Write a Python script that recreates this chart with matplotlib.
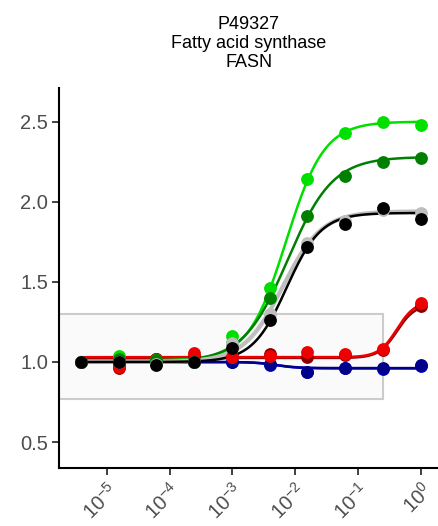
import numpy as np
import matplotlib
matplotlib.use("Agg")
from matplotlib import pyplot as plt
from matplotlib.patches import Rectangle
from matplotlib.ticker import NullLocator

plt.rcParams["font.family"] = ["Liberation Sans", "DejaVu Sans"]

# concentrations (4-fold dilution series)
conc = [3.81e-6, 1.53e-5, 6.10e-5, 2.44e-4, 9.77e-4, 3.91e-3, 1.56e-2, 6.25e-2, 0.25, 1.0]
xticks = [1e-5, 1e-4, 1e-3, 1e-2, 1e-1, 1e0]

# measured points per condition
blue = [1.00, 1.00, 1.01, 1.00, 1.00, 0.98, 0.94, 0.965, 0.955, 0.975]
darkblue = [1.00, 0.99, 1.02, 1.00, 1.00, 0.985, 0.94, 0.965, 0.96, 0.98]
red = [1.00, 0.97, 1.02, 1.055, 1.03, 1.04, 1.065, 1.05, 1.08, 1.37]
darkred = [1.00, 0.96, 1.02, 1.04, 1.03, 1.05, 1.03, 1.045, 1.075, 1.35]
lightgreen = [1.00, 1.035, 1.01, 1.00, 1.16, 1.46, 2.14, 2.43, 2.50, 2.48]
darkgreen = [1.00, 1.02, 1.01, 1.00, 1.12, 1.40, 1.91, 2.16, 2.25, 2.27]
gray = [1.00, 1.00, 0.99, 1.00, 1.12, 1.30, 1.74, 1.88, 1.95, 1.93]
black = [1.00, 1.00, 0.98, 1.00, 1.09, 1.26, 1.72, 1.86, 1.96, 1.89]

# fitted curve parameters: bottom, top, log10 EC50, hill slope
fits = {
    "blue": (0.96, 1.00, -2.3, -2.5),
    "darkblue": (0.962, 1.00, -2.3, -2.5),
    "red": (1.03, 1.38, -0.38, 3.0),
    "darkred": (1.025, 1.36, -0.38, 3.0),
    "lightgreen": (1.01, 2.50, -2.145, 1.43),
    "darkgreen": (1.00, 2.28, -2.118, 1.215),
    "gray": (1.00, 1.94, -2.2, 1.4),
    "black": (1.00, 1.93, -2.136, 1.59),
}

series = [
    ("blue", blue, "#0000dd"),
    ("darkblue", darkblue, "#00008b"),
    ("darkred", darkred, "#8b0000"),
    ("red", red, "#ee0000"),
    ("lightgreen", lightgreen, "#00e000"),
    ("darkgreen", darkgreen, "#008000"),
    ("gray", gray, "#bebebe"),
    ("black", black, "#000000"),
]


def logistic(x, bottom, top, logec, hill):
    if hill < 0:
        return top + (bottom - top) / (1 + 10 ** ((logec - np.log10(x)) * -hill))
    return bottom + (top - bottom) / (1 + 10 ** ((logec - np.log10(x)) * hill))


fig = plt.figure(figsize=(4.39, 5.26), dpi=100)
ax = fig.add_axes([0.1344, 0.110, 0.8656, 0.7227])

xmin, xmax = 10 ** -5.764, 10 ** 0.29
ax.add_patch(Rectangle((xmin, 0.77), 0.25 - xmin, 0.53, facecolor="#fafafa",
                       edgecolor="#cccccc", linewidth=1.5, zorder=1))

xs = np.logspace(np.log10(conc[0]), 0, 300)
for name, vals, col in series:
    lw = 3.0 if name == "gray" else 1.8
    ax.plot(xs, logistic(xs, *fits[name]), color=col, lw=lw, zorder=2)
    ax.plot(conc, vals, "o", color=col, ms=8.2, zorder=3)

ax.set_xscale("log")
ax.set_xlim(xmin, xmax)
ax.set_ylim(0.3375, 2.71)
ax.set_xticks(xticks)
ax.xaxis.set_minor_locator(NullLocator())
ax.set_yticks([0.5, 1.0, 1.5, 2.0, 2.5])
ax.set_yticklabels(["0.5", "1.0", "1.5", "2.0", "2.5"])

for s in ["top", "right"]:
    ax.spines[s].set_visible(False)
for s in ["left", "bottom"]:
    ax.spines[s].set_linewidth(1.5)
ax.tick_params(axis="both", colors="#333333", labelcolor="#4d4d4d",
               labelsize=14.5, length=5, width=1.3, pad=3)
plt.setp(ax.get_xticklabels(), rotation=45, ha="right", va="top",
         rotation_mode="anchor")

fig.text(0.567, 0.918, "P49327\nFatty acid synthase\nFASN", ha="center",
         va="center", fontsize=13, linespacing=1.15)

fig.savefig("out.png", dpi=100)
